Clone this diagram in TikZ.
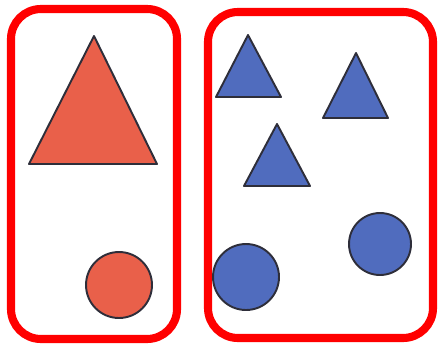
\documentclass[tikz,border=0pt]{standalone}
\usepackage{tikz}
\usetikzlibrary{positioning,calc}

\definecolor{framered}{HTML}{FF0000}
\definecolor{shapered}{HTML}{E9604A}
\definecolor{shapeblue}{HTML}{506CBE}
\definecolor{edgedark}{HTML}{2E2E3A}

\begin{document}
\begin{tikzpicture}[x=0.02cm, y=-0.02cm]
            \tikzstyle{frame}=[draw=framered, line width=4.6pt, rounded corners=0.6cm]
            \tikzstyle{redshape}=[draw=edgedark, fill=shapered, line width=1.1pt, line join=round]
            \tikzstyle{blueshape}=[draw=edgedark, fill=shapeblue, line width=1.1pt, line join=round]

            \useasboundingbox (0,0) rectangle (438,345);

            % left group
            \draw[frame] (11,9) rectangle (177,339);
            \draw[redshape] (94,36) -- (157,164) -- (29,164) -- cycle;
            \draw[redshape] (119,285) circle (0.66cm);

            % right group
            \draw[frame] (208,12) rectangle (433,338);
            \draw[blueshape] (248,35) -- (281,97) -- (216,97) -- cycle;
            \draw[blueshape] (356,53) -- (388,118) -- (323,118) -- cycle;
            \draw[blueshape] (277,124) -- (310,186) -- (244,186) -- cycle;
            \draw[blueshape] (246,277) circle (0.66cm);
            \draw[blueshape] (380,244) circle (0.62cm);
        \end{tikzpicture}
\end{document}
